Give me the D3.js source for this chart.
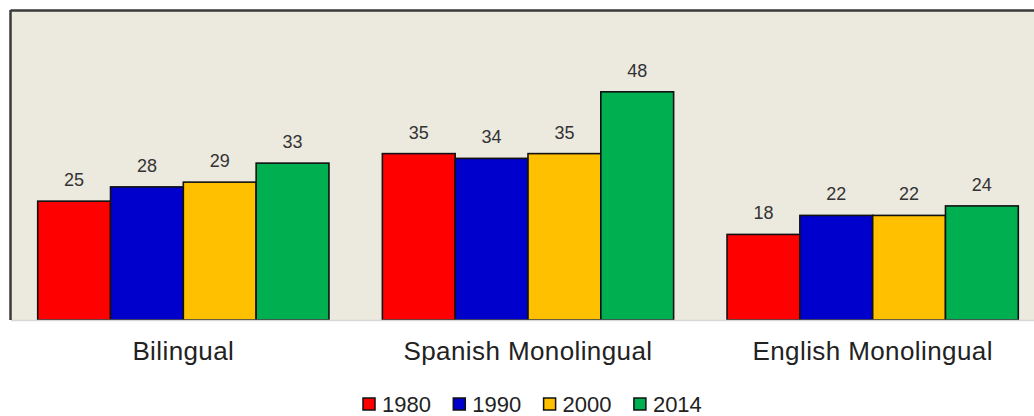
<!DOCTYPE html>
<html>
<head>
<meta charset="utf-8">
<script src="https://cdn.jsdelivr.net/npm/d3@7"></script>
<style>
  body { margin: 0; background: #fff; }
  svg { display: block; }
</style>
</head>
<body>
<div id="chart"></div>
<script>
const categories = ["Bilingual", "Spanish Monolingual", "English Monolingual"];
const years = ["1980", "1990", "2000", "2014"];
const values1980 = [25, 35, 18];
const values1990 = [28, 34, 22];
const values2000 = [29, 35, 22];
const values2014 = [33, 48, 24];
const colors = ["#ff0000", "#0000cc", "#ffc000", "#00b050"];

const seriesValues = [values1980, values1990, values2000, values2014];

const width = 1034, height = 416;
const plot = { left: 11, top: 11, right: 1045, bottom: 320 };

const svg = d3.select("#chart").append("svg")
    .attr("width", width)
    .attr("height", height);

// plot background
svg.append("rect")
    .attr("x", plot.left)
    .attr("y", plot.top)
    .attr("width", plot.right - plot.left)
    .attr("height", plot.bottom - plot.top)
    .attr("fill", "#ece9df");

const x0 = d3.scaleBand()
    .domain(categories)
    .range([plot.left, plot.right])
    .paddingInner(0.155)
    .paddingOuter(0.0775);

const x1 = d3.scaleBand()
    .domain(years)
    .range([0, x0.bandwidth()]);

const y = d3.scaleLinear()
    .domain([0, 65])
    .range([plot.bottom, plot.top]);

const rows = [];
categories.forEach((c, i) => {
    years.forEach((yr, j) => {
        rows.push({ cat: c, year: yr, value: seriesValues[j][i], color: colors[j] });
    });
});

const g = svg.append("g");

g.selectAll("rect.bar")
    .data(rows)
    .enter().append("rect")
    .attr("class", "bar")
    .attr("x", d => x0(d.cat) + x1(d.year))
    .attr("y", d => y(d.value))
    .attr("width", x1.bandwidth())
    .attr("height", d => y(0) - y(d.value))
    .attr("fill", d => d.color)
    .attr("stroke", "#111")
    .attr("stroke-width", 1.6);

g.selectAll("text.val")
    .data(rows)
    .enter().append("text")
    .attr("class", "val")
    .attr("x", d => x0(d.cat) + x1(d.year) + x1.bandwidth() / 2)
    .attr("y", d => y(d.value) - 15)
    .attr("text-anchor", "middle")
    .attr("font-family", "Liberation Sans, Arial, sans-serif")
    .attr("font-size", 18)
    .attr("fill", "#333")
    .text(d => d.value);

// frame: dark top/left, light bottom
svg.append("line")
    .attr("x1", plot.left).attr("x2", plot.right)
    .attr("y1", plot.bottom + 0.5).attr("y2", plot.bottom + 0.5)
    .attr("stroke", "#d8d8d8").attr("stroke-width", 1.5);
svg.append("line")
    .attr("x1", plot.left - 0.5).attr("x2", plot.right)
    .attr("y1", plot.top - 0.5).attr("y2", plot.top - 0.5)
    .attr("stroke", "#3a3a3a").attr("stroke-width", 2.5);
svg.append("line")
    .attr("x1", plot.left - 0.5).attr("x2", plot.left - 0.5)
    .attr("y1", plot.top - 1).attr("y2", plot.bottom)
    .attr("stroke", "#3a3a3a").attr("stroke-width", 2.5);

// category labels
svg.append("g")
    .selectAll("text")
    .data(categories)
    .enter().append("text")
    .attr("x", d => x0(d) + x0.bandwidth() / 2)
    .attr("y", 360)
    .attr("text-anchor", "middle")
    .attr("font-family", "Liberation Sans, Arial, sans-serif")
    .attr("font-size", 26)
    .attr("letter-spacing", 0.4)
    .attr("fill", "#222")
    .text(d => d);

// legend
const legend = svg.append("g")
    .selectAll("g")
    .data(years)
    .enter().append("g")
    .attr("transform", (d, i) => `translate(${363 + i * 90.3},398)`);

legend.append("rect")
    .attr("width", 12)
    .attr("height", 12)
    .attr("fill", (d, i) => colors[i])
    .attr("stroke", "#111")
    .attr("stroke-width", 1.5);

legend.append("text")
    .attr("x", 19)
    .attr("y", 14)
    .attr("font-family", "Liberation Sans, Arial, sans-serif")
    .attr("font-size", 22)
    .attr("fill", "#222")
    .text(d => d);
</script>
</body>
</html>
